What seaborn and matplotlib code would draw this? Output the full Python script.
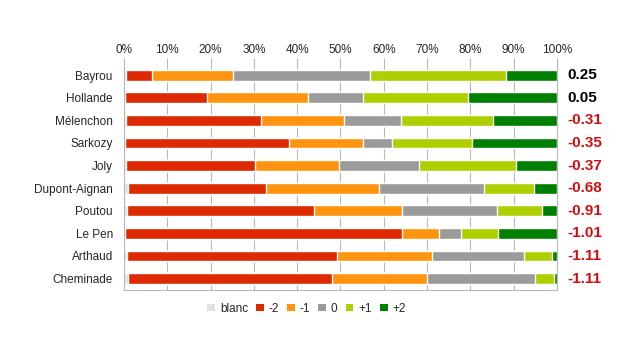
import matplotlib
matplotlib.use("Agg")
import matplotlib.pyplot as plt
import matplotlib.ticker as mticker
from matplotlib.patches import Patch
import numpy as np
import pandas as pd
import seaborn as sns

candidates = ["Bayrou", "Hollande", "Mélenchon", "Sarkozy", "Joly", "Dupont-Aignan",
              "Poutou", "Le Pen", "Arthaud", "Cheminade"]
blanc = [0.5, 0.3, 0.4, 0.2, 0.4, 0.9, 0.7, 0.2, 0.7, 0.9]
m2 = [5.9, 18.9, 31.3, 38.0, 29.9, 32.0, 43.3, 63.9, 48.6, 47.2]
m1 = [18.7, 23.2, 19.0, 16.9, 19.3, 25.9, 20.3, 8.6, 21.8, 21.8]
zero = [31.8, 12.7, 13.2, 6.9, 18.5, 24.4, 21.8, 5.1, 21.2, 25.0]
p1 = [31.4, 24.4, 21.3, 18.3, 22.5, 11.6, 10.4, 8.5, 6.5, 4.4]
p2 = [11.7, 20.5, 14.8, 19.7, 9.4, 5.2, 3.5, 13.7, 1.2, 0.7]
scores = ["0.25", "0.05", "-0.31", "-0.35", "-0.37", "-0.68", "-0.91", "-1.01", "-1.11", "-1.11"]

levels = ["blanc", "-2", "-1", "0", "+1", "+2"]
colors = ["#e2e2e2", "#dd2a00", "#ff9410", "#9b9b9b", "#afd000", "#008000"]

df = pd.DataFrame({"blanc": blanc, "-2": m2, "-1": m1, "0": zero, "+1": p1, "+2": p2},
                  index=candidates)
# normalise each row to 100 %
df = df.div(df.sum(axis=1), axis=0) * 100
cum = df.cumsum(axis=1)

sns.set_style("white")
plt.rcParams["font.family"] = ["Liberation Sans", "DejaVu Sans"]

fig = plt.figure(figsize=(6.23, 3.61), dpi=100)
ax = fig.add_axes([0.199, 0.197, 0.695, 0.626])

# stacked bars: draw cumulative totals from the largest down
for lev, col in reversed(list(zip(levels, colors))):
    sns.barplot(x=cum[lev].values, y=candidates, orient="h", color=col,
                width=0.48, saturation=1, ax=ax, zorder=2)

ax.set_xlim(0, 100)
ax.set_ylim(len(candidates) - 0.5, -0.5)
ax.xaxis.set_major_locator(mticker.MultipleLocator(10))
ax.xaxis.set_major_formatter(mticker.FuncFormatter(lambda v, p: f"{int(v)}%"))
ax.xaxis.tick_top()
ax.grid(axis="x", color="#b8b8b8", linewidth=0.8, zorder=0)
ax.set_axisbelow(True)
ax.tick_params(axis="x", length=4, color="#b8b8b8", labelsize=8.5, pad=2)
ax.tick_params(axis="y", which="major", length=0, labelsize=8.5, pad=8)
ax.set_yticks(np.arange(-0.5, len(candidates), 1), minor=True)
ax.tick_params(axis="y", which="minor", length=5, color="#b8b8b8")
ax.set_xlabel("")
ax.set_ylabel("")
for s in ["left", "right", "bottom"]:
    ax.spines[s].set_color("#b8b8b8")
    ax.spines[s].set_linewidth(0.8)
ax.spines["top"].set_visible(False)

for i, s in enumerate(scores):
    col = "black" if not s.startswith("-") else "#d01010"
    ax.text(1.025, i, s, transform=ax.get_yaxis_transform(), ha="left", va="center",
            fontsize=11, fontweight="bold", color=col)

handles = [Patch(facecolor=c, edgecolor="none") for c in colors]
fig.legend(handles, levels, loc="center", bbox_to_anchor=(0.492, 0.145), ncol=6,
           frameon=False, fontsize=8.5, handlelength=0.65, handleheight=0.65,
           handletextpad=0.4, columnspacing=0.7)

fig.savefig("out.png", dpi=100)
